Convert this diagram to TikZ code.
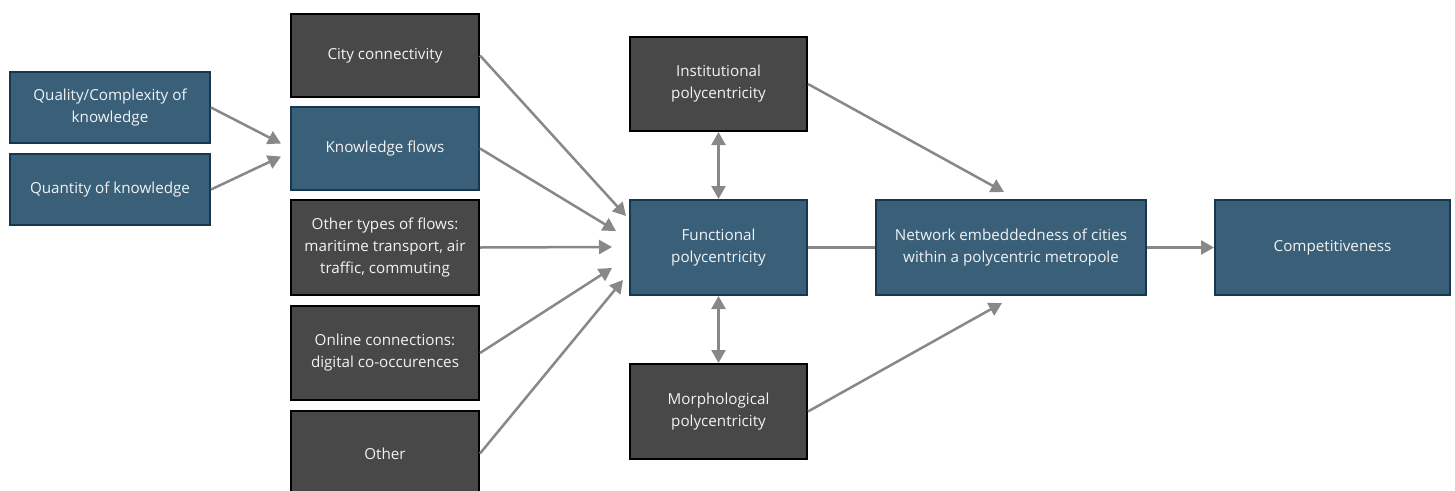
\documentclass[tikz,border=0pt]{standalone}
\usepackage{fontspec}
\setmainfont{Open Sans}
\usetikzlibrary{arrows.meta,calc}
\definecolor{boxblue}{RGB}{58,96,121}
\definecolor{blueedge}{RGB}{22,55,78}
\definecolor{boxgray}{RGB}{72,72,72}
\definecolor{arrowgray}{RGB}{136,136,136}
\definecolor{txt}{RGB}{242,242,242}
\begin{document}
\begin{tikzpicture}[x=1pt,y=-1pt,
  base/.style={rectangle,inner sep=0pt,align=center,text=txt,line width=2pt,
    font=\fontsize{15.2}{22}\selectfont},
  bluebox/.style={base,fill=boxblue,draw=blueedge},
  graybox/.style={base,fill=boxgray,draw=black},
  arr/.style={draw=arrowgray,line width=2.5pt,-{Triangle[length=13pt,width=14pt]}},
  darr/.style={draw=arrowgray,line width=2.5pt,{Triangle[length=13pt,width=14pt]}-{Triangle[length=13pt,width=14pt]}},
  plain/.style={draw=arrowgray,line width=2.5pt}]
\clip (0,0) rectangle (1455,490);
\fill[white] (0,0) rectangle (1455,490);

\node[bluebox,minimum width=200pt,minimum height=71pt] (qual) at (110,107.5) {Quality/Complexity of\\knowledge};
\node[bluebox,minimum width=200pt,minimum height=71pt] (quant) at (110,189.5) {Quantity of knowledge};

\node[graybox,minimum width=188pt,minimum height=83pt] (city) at (385,55.5) {City connectivity};
\node[bluebox,minimum width=188pt,minimum height=83pt] (kf) at (385,148.5) {Knowledge flows};
\node[graybox,minimum width=188pt,minimum height=95pt] (otypes) at (385,247.5) {Other types of flows:\\maritime transport, air\\traffic, commuting};
\node[graybox,minimum width=188pt,minimum height=94pt] (online) at (385,353) {Online connections:\\digital co-occurences};
\node[graybox,minimum width=188pt,minimum height=85pt] (other) at (385,453.5) {Other};

\node[graybox,minimum width=177pt,minimum height=94pt] (inst) at (718.5,84) {Institutional\\polycentricity};
\node[bluebox,minimum width=177pt,minimum height=95pt] (func) at (718.5,247.5) {Functional\\polycentricity};
\node[graybox,minimum width=177pt,minimum height=95pt] (morph) at (718.5,411.5) {Morphological\\polycentricity};

\node[bluebox,minimum width=270pt,minimum height=95pt] (net) at (1011,247.5) {Network embeddedness of cities\\within a polycentric metropole};
\node[bluebox,minimum width=235pt,minimum height=95pt] (comp) at (1332.5,247.5) {Competitiveness};

% knowledge inputs
\draw[arr] (qual.east) -- ($(kf.west)+(-9,-5)$);
\draw[arr] (quant.east) -- ($(kf.west)+(-9,8)$);

% inputs to functional polycentricity
\draw[arr] (city.east) -- ($(func.north west)+(-3,17)$);
\draw[arr] (kf.east) -- ($(func.north west)+(-13,32)$);
\draw[arr] (otypes.east) -- ($(func.west)+(-17,-0.5)$);
\draw[arr] (online.east) -- ($(func.west)+(-17,20.5)$);
\draw[arr] (other.east) -- ($(func.west)+(-6,32.5)$);

% polycentricity relations
\draw[darr] (inst.south) -- (func.north);
\draw[darr] (func.south) -- (morph.north);
\draw[arr] (inst.east) -- ($(net.north)+(-7,-7)$);
\draw[arr] (morph.east) -- ($(net.south)+(-9,7)$);
\draw[plain] (func.east) -- (net.west);
\draw[arr] (net.east) -- (comp.west);
\end{tikzpicture}
\end{document}
